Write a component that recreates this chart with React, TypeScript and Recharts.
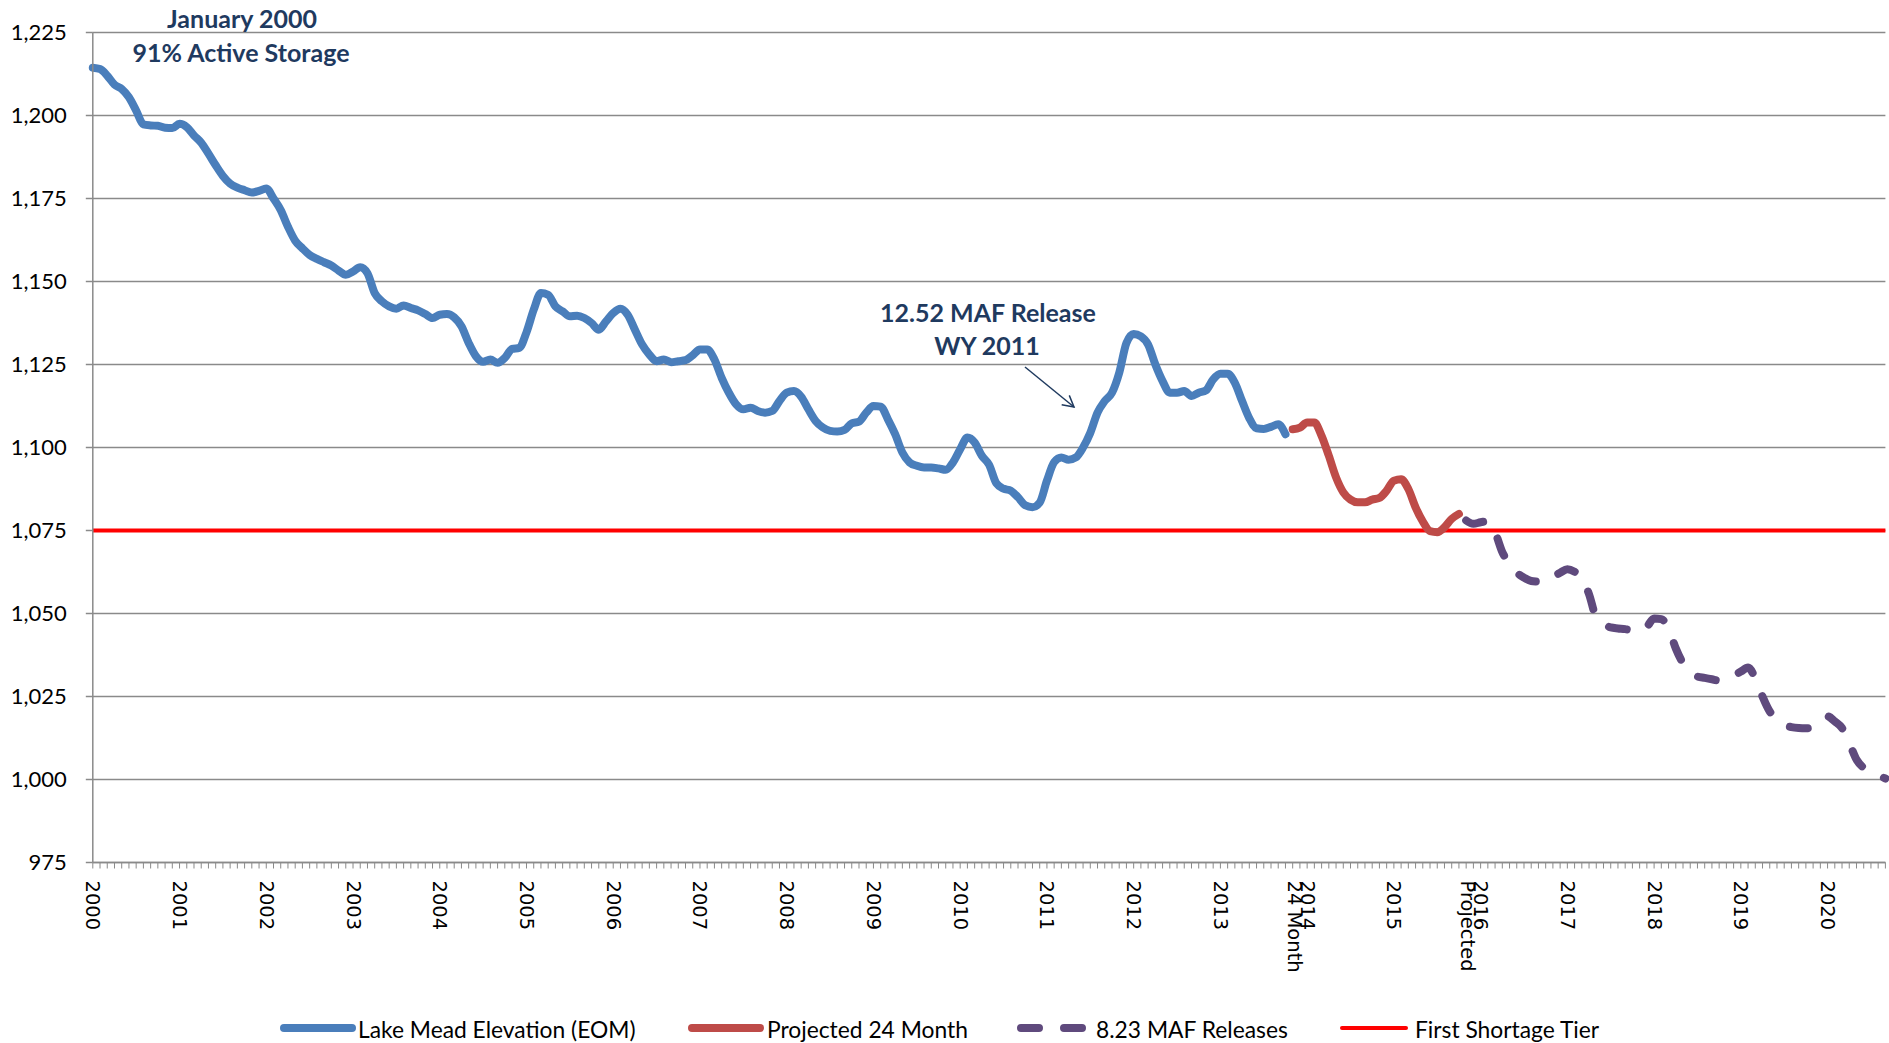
import React from "react";
import { LineChart, Line, XAxis, YAxis, CartesianGrid, ReferenceLine, Legend } from "recharts";

// months run Jan 2000 .. Sep 2020
const YEARS = [2000, 2001, 2002, 2003, 2004, 2005, 2006, 2007, 2008, 2009, 2010, 2011, 2012, 2013, 2014, 2015, 2016, 2017, 2018, 2019, 2020];
const MONTHS = ["01", "02", "03", "04", "05", "06", "07", "08", "09", "10", "11", "12"];
const MONTH_COUNT = 249;
const CATEGORIES = YEARS.flatMap((y) => MONTHS.map((m) => `${y}-${m}`)).slice(0, MONTH_COUNT);

// label shown under the January of each year
const YEAR_LABELS = [
  ["2000"], ["2001"], ["2002"], ["2003"], ["2004"], ["2005"], ["2006"], ["2007"], ["2008"], ["2009"],
  ["2010"], ["2011"], ["2012"], ["2013"], ["2014", "24 Month"], ["2015"], ["2016", "Projected"],
  ["2017"], ["2018"], ["2019"], ["2020"],
];

const Y_TICKS = [975, 1000, 1025, 1050, 1075, 1100, 1125, 1150, 1175, 1200, 1225];
const SHORTAGE_TIER = 1075;

// Jan 2000 .. Oct 2013
const ELEVATION = [
  1214.4, 1214, 1212, 1209.3, 1208, 1205.5, 1201.5, 1197.3, 1197, 1196.9, 1196.3, 1196.2,
  1197.5, 1196.5, 1194, 1191.8, 1188.5, 1185, 1181.8, 1179.5, 1178.3, 1177.5, 1176.8, 1177.3,
  1178, 1175, 1171.5, 1166.5, 1162.3, 1160, 1158, 1156.8, 1155.8, 1154.8, 1153.3, 1152,
  1153, 1154.3, 1152.5, 1146.5, 1144, 1142.5, 1141.8, 1142.8, 1142, 1141.3, 1140.2, 1139,
  1140, 1140.2, 1139.2, 1136.5, 1131.5, 1127.5, 1125.8, 1126.5, 1125.5, 1127, 1129.7, 1130,
  1134.7, 1141.5, 1146.5, 1146, 1142.5, 1141, 1139.5, 1139.7, 1139, 1137.5, 1135.5, 1138,
  1140.5, 1141.8, 1140, 1135.5, 1131, 1128, 1126, 1126.5, 1125.7, 1126, 1126.3, 1127.8,
  1129.5, 1129.5, 1126.5, 1121, 1116.5, 1113, 1111.5, 1112, 1111, 1110.5, 1111, 1114,
  1116.5, 1117, 1115.3, 1111.5, 1108, 1106, 1105, 1104.8, 1105.3, 1107.3, 1107.8, 1110.5,
  1112.5, 1112.3, 1108.5, 1104, 1098.5, 1095.5, 1094.5, 1094, 1094, 1093.7, 1093.3, 1095.5,
  1099.5, 1103, 1101.5, 1097.5, 1094.8, 1089.2, 1087.6, 1087, 1085, 1082.6, 1082, 1083.4,
  1090, 1095.6, 1097, 1096.3, 1097, 1100, 1104.4, 1110.5, 1114, 1116.5, 1122.5, 1131.5,
  1134.2, 1133.5, 1131, 1125, 1120, 1116.5, 1116.5, 1117, 1115.5, 1116.5, 1117.2, 1120.5,
  1122.2, 1122.2, 1119.5, 1114, 1108.8, 1105.8, 1105.6, 1106.2, 1107, 1104,
];

// Nov 2013 .. Oct 2015
const PROJECTED_24 = [
  1105.5, 1106, 1107.5, 1107.5, 1103.5, 1097.5, 1091, 1086.5, 1084.3, 1083.5, 1083.5, 1084.3,
  1084.8, 1087, 1090, 1090.4, 1087.5, 1082, 1077.7, 1074.8, 1074.5, 1076, 1078.5, 1080,
];

// Nov 2015 .. Sep 2020
const MAF_823 = [
  1078, 1077, 1077.5, 1077.8, 1074.5, 1068.5, 1065, 1062.3, 1060.8, 1059.8, 1059.6, 1059.5,
  1061, 1062.3, 1063.3, 1062.6, 1061, 1055.8, 1048.8, 1047, 1045.8, 1045.5, 1045.3, 1044.8,
  1044.5, 1046, 1048.5, 1048.3, 1045.5, 1039.5, 1035, 1032.2, 1031, 1030.6, 1030.2, 1029.8,
  1030, 1031.3, 1032.5, 1033.7, 1030.5, 1025, 1020.5, 1018.4, 1016.4, 1015.8, 1015.5, 1015.4,
  1015.8, 1018, 1019, 1017.5, 1015.5, 1011, 1006, 1003.5, 1002.1, 1001.2, 1000.3,
];

const SERIES_NAMES = ["Lake Mead Elevation (EOM)", "Projected 24 Month", "8.23 MAF Releases", "First Shortage Tier"];

const BLUE = "#4A7EBB";
const BRICK = "#BE4B48";
const PURPLE = "#5F4A7D";
const RED = "#FF0000";
const GRAY = "#8a8a8a";
const NAVY = "#1F3A5F";

const projStart = ELEVATION.length;
const mafStart = projStart + PROJECTED_24.length;

const data = CATEGORIES.map((month, i) => ({
  month,
  elevation: i < projStart ? ELEVATION[i] : null,
  projected: i >= projStart && i < mafStart ? PROJECTED_24[i - projStart] : null,
  maf: i >= mafStart ? MAF_823[i - mafStart] : null,
}));

const catIndex = new Map(CATEGORIES.map((c, i) => [c, i]));

const YearTick = (props: any) => {
  const { x, y, payload } = props;
  const idx = catIndex.get(payload.value) ?? 1;
  if (idx % 12 !== 0) return <g />;
  const lines = YEAR_LABELS[idx / 12];
  return (
    <g transform={`translate(${x},${y}) rotate(90)`}>
      {lines.map((t, k) => (
        <text
          key={k}
          x={0}
          y={k * 13}
          textAnchor="start"
          dominantBaseline="central"
          fontFamily="DejaVu Sans"
          fontSize={19.5}
          fill="#000"
        >
          {t}
        </text>
      ))}
    </g>
  );
};

const legendLayout = [
  { color: BLUE, width: 8, dash: undefined, x0: 284, x1: 352, tx: 358 },
  { color: BRICK, width: 8, dash: undefined, x0: 692, x1: 760, tx: 767 },
  { color: PURPLE, width: 8, dash: "18 25", x0: 1021, x1: 1090, tx: 1096 },
  { color: RED, width: 4, dash: undefined, x0: 1342, x1: 1406, tx: 1415 },
];

const LegendContent = () => (
  <div style={{ position: "relative", width: 1889, height: 34 }}>
    <svg width={1889} height={34} style={{ position: "absolute", left: 0, top: 0 }}>
      {legendLayout.map((it, k) => (
        <g key={k}>
          <line
            x1={it.x0}
            x2={it.x1}
            y1={19}
            y2={19}
            stroke={it.color}
            strokeWidth={it.width}
            strokeLinecap="round"
            strokeDasharray={it.dash}
          />
          <text x={it.tx} y={20} dominantBaseline="central" fontFamily="Lato" fontSize={22.8} fill="#000">
            {SERIES_NAMES[k]}
          </text>
        </g>
      ))}
    </svg>
  </div>
);

const Annotations = () => (
  <svg
    width={1889}
    height={1043}
    style={{ position: "absolute", left: 0, top: 0, pointerEvents: "none" }}
  >
    <defs>
      <marker id="arrowHead" markerWidth={14} markerHeight={14} refX={12} refY={7} orient="auto" markerUnits="userSpaceOnUse">
        <path d="M1,1 L12,7 L1,13" fill="none" stroke={NAVY} strokeWidth={1.5} />
      </marker>
    </defs>
    <g fontFamily="Lato" fontWeight={700} fontSize={25} fill={NAVY} textAnchor="middle">
      <text x={242} y={18} dominantBaseline="central">January 2000</text>
      <text x={241} y={52} dominantBaseline="central">91% Active Storage</text>
      <text x={988} y={312} dominantBaseline="central">12.52 MAF Release</text>
      <text x={987} y={345} dominantBaseline="central">WY 2011</text>
    </g>
    <line x1={1025} y1={367} x2={1074} y2={407} stroke={NAVY} strokeWidth={1.5} markerEnd="url(#arrowHead)" />
  </svg>
);

const App = () => (
  <div style={{ position: "absolute", left: 0, top: 0, width: 1889, height: 1043, background: "#fff" }}>
    <LineChart
      width={1889}
      height={1043}
      data={data}
      margin={{ top: 32.5, right: 3.6, bottom: 0, left: 0 }}
    >
      <CartesianGrid horizontal vertical={false} stroke={GRAY} strokeWidth={1.5} />
      <XAxis
        dataKey="month"
        interval={0}
        height={146.5}
        tickSize={6}
        tickMargin={12}
        tickLine={{ stroke: GRAY, strokeWidth: 1 }}
        axisLine={{ stroke: GRAY, strokeWidth: 1.5 }}
        tick={(p: any) => <YearTick {...p} />}
      />
      <YAxis
        width={92.8}
        domain={[975, 1225]}
        ticks={Y_TICKS}
        interval={0}
        tickSize={7}
        tickMargin={19}
        tickLine={{ stroke: GRAY, strokeWidth: 1.5 }}
        axisLine={{ stroke: GRAY, strokeWidth: 1.5 }}
        tickFormatter={(v: number) => v.toLocaleString("en-US")}
        tick={{ fontFamily: "Lato", fontSize: 22, fill: "#000" }}
      />
      <ReferenceLine y={SHORTAGE_TIER} stroke={RED} strokeWidth={4} />
      <Line
        type="monotone"
        dataKey="elevation"
        name={SERIES_NAMES[0]}
        stroke={BLUE}
        strokeWidth={8}
        strokeLinecap="round"
        strokeLinejoin="round"
        dot={false}
        isAnimationActive={false}
      />
      <Line
        type="monotone"
        dataKey="projected"
        name={SERIES_NAMES[1]}
        stroke={BRICK}
        strokeWidth={8}
        strokeLinecap="round"
        strokeLinejoin="round"
        dot={false}
        isAnimationActive={false}
      />
      <Line
        type="monotone"
        dataKey="maf"
        name={SERIES_NAMES[2]}
        stroke={PURPLE}
        strokeWidth={8}
        strokeLinecap="round"
        strokeLinejoin="round"
        strokeDasharray="18 25"
        dot={false}
        isAnimationActive={false}
      />
      <Legend verticalAlign="bottom" content={() => <LegendContent />} wrapperStyle={{ left: 0, bottom: 0, width: 1889 }} />
    </LineChart>
    <Annotations />
  </div>
);

export default App;
